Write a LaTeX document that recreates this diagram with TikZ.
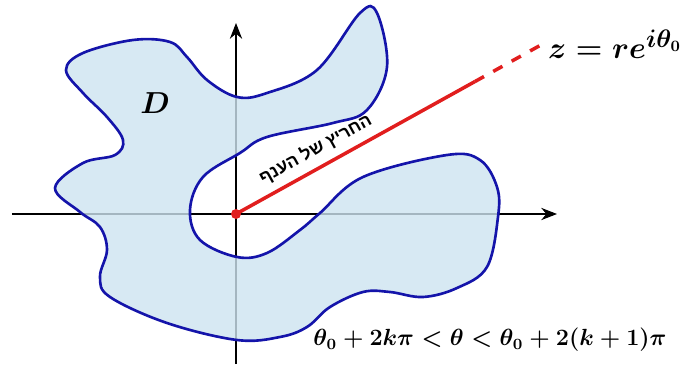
\documentclass[tikz,border=0pt]{standalone}
\usepackage{fontspec}
\usetikzlibrary{arrows.meta}
\TeXXeTstate=1
\newfontfamily\hebfont[Script=Hebrew]{Liberation Sans}
\definecolor{domblue}{RGB}{20,20,170}
\definecolor{domfill}{RGB}{205,228,240}
\definecolor{slitred}{RGB}{225,30,30}

\begin{document}
\begin{tikzpicture}[
  axis/.style={-{Stealth[length=9pt,width=7pt]}, semithick, black},
  domline/.style={draw=domblue, line width=1.5pt},
  slit/.style={draw=slitred, line width=2pt},
  lbl/.style={font=\boldmath\fontsize{16}{19}\selectfont, inner sep=1pt},
]
\useasboundingbox (-4.72,-3.02) rectangle (8.98,4.28);

% ---- Axes ----
\coordinate (O) at (0,0);
\coordinate (xl) at (-4.48,0);
\coordinate (xr) at (6.42,0);
\coordinate (yb) at (0,-3.0);
\coordinate (yt) at (0,3.82);
\draw[axis] (xl) -- (xr);
\draw[axis] (yb) -- (yt);

% ---- Domain D ----
\def\dompath{plot[smooth cycle, tension=0.6] coordinates {
  (-3.40,2.88) (-3.06,3.22) (-2.06,3.48) (-1.32,3.44) (-0.98,3.14)
  (-0.58,2.68) (0.02,2.34) (0.62,2.42) (1.62,2.88) (2.48,4.02)
  (2.82,4.02) (3.02,2.94) (2.62,2.08) (1.94,1.82) (0.62,1.54)
  (0.08,1.22) (-0.66,0.74) (-0.92,0.08) (-0.72,-0.52) (0.02,-0.86)
  (0.62,-0.78) (1.28,-0.32) (1.68,0.02) (2.54,0.74) (4.22,1.18)
  (4.88,1.08) (5.22,0.54) (5.24,-0.06) (5.02,-1.06) (4.42,-1.48)
  (3.74,-1.66) (3.08,-1.56) (2.54,-1.56) (1.88,-1.86) (1.42,-2.26)
  (0.88,-2.46) (0.02,-2.52) (-1.38,-2.18) (-2.52,-1.66) (-2.72,-1.26)
  (-2.58,-0.72) (-2.72,-0.26) (-3.12,0.04) (-3.62,0.52) (-3.06,1.02)
  (-2.42,1.18) (-2.26,1.48) (-2.58,1.94) (-3.06,2.42)}}
\fill[domfill, opacity=0.8] \dompath;
\draw[domline] \dompath;
\node[lbl] (D) at (-1.62,2.22) {$D$};

% ---- Branch cut ----
\coordinate (cutend) at (29:5.46);
\coordinate (rayend) at (29:7.05);
\draw[slit] (O) -- (cutend)
  node[pos=0.37, above=1pt, sloped, font=\hebfont\bfseries] (cut) {\beginR החריץ של הענף\endR};
\draw[slit, dash pattern=on 6pt off 6pt] (cutend) -- (rayend);
\fill[slitred] (O) circle (0.1);

% ---- Labels ----
\node[lbl, anchor=west, font=\boldmath\fontsize{19}{23}\selectfont] (z) at (6.20,3.40) {$z=re^{i\theta_0}$};
\node[lbl, font=\boldmath\fontsize{12}{15}\selectfont, scale=1.11, transform shape] (arg) at (5.08,-2.52) {$\theta_0+2k\pi<\theta<\theta_0+2(k+1)\pi$};

\end{tikzpicture}
\end{document}
